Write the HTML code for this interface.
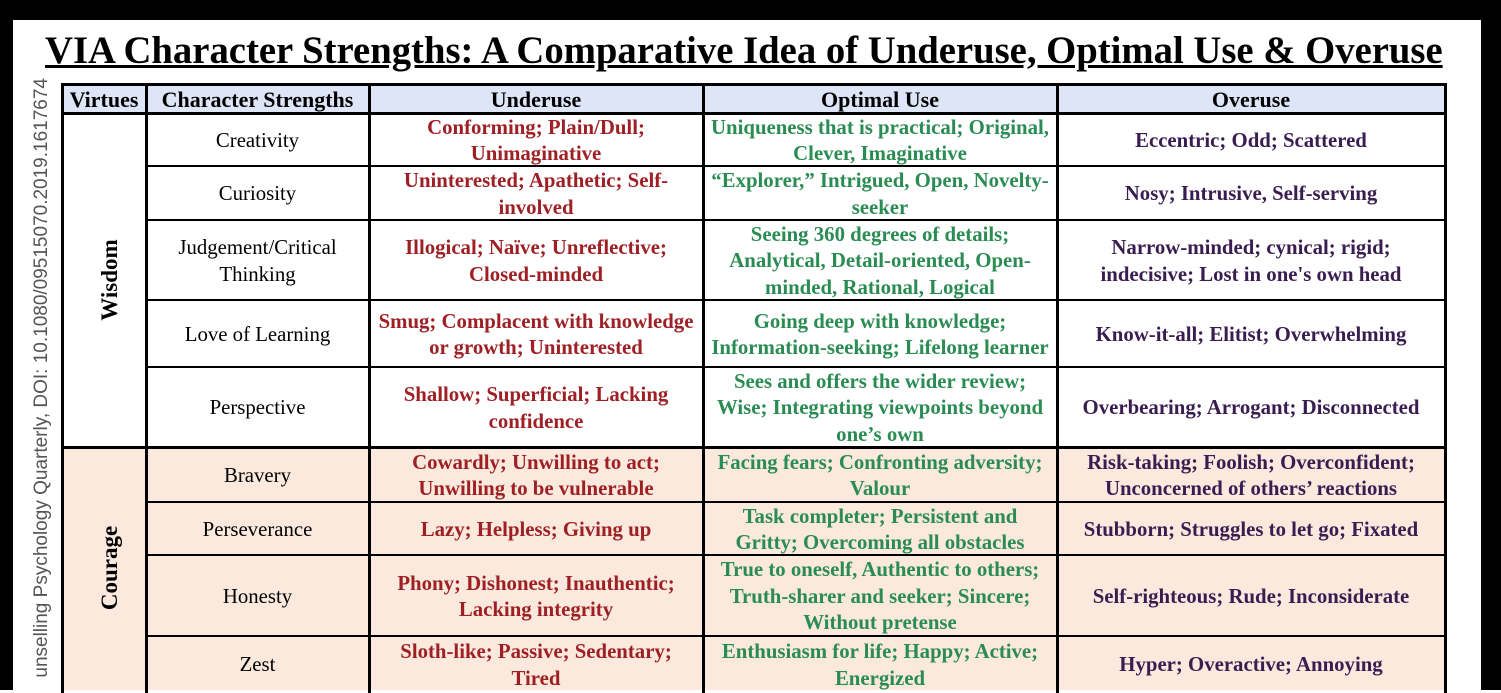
<!DOCTYPE html>
<html><head><meta charset="utf-8"><style>
body{margin:0;width:1501px;height:690px;overflow:hidden;background:#fff;position:relative;font-family:"Liberation Serif",serif}
.frame{position:absolute;background:#000}
.c{position:absolute;display:flex;align-items:center;justify-content:center;text-align:center;font-size:20.8px;line-height:26.5px;box-sizing:border-box;padding:3px 0 0 0;white-space:nowrap}
.b{font-weight:bold}
.r{color:#9e2024;font-weight:bold}
.g{color:#2a8c52;font-weight:bold}
.p{color:#3a1d50;font-weight:bold}
.h{background:#dde5f6;font-weight:bold;color:#000;font-size:22px}
.k{background:#fbe9de}
.l{position:absolute;background:#000}
</style></head><body>
<div class="frame" style="left:0;top:0;width:1501px;height:20px"></div>
<div class="frame" style="left:0;top:0;width:13px;height:690px"></div>
<div class="frame" style="left:1481px;top:0;width:20px;height:690px"></div>
<div style="position:absolute;left:45px;top:29px;width:1420px;font-size:38.7px;font-weight:bold;line-height:44px;text-decoration:underline;white-space:nowrap">VIA Character Strengths: A Comparative Idea of Underuse, Optimal Use &amp; Overuse</div>
<svg style="position:absolute;left:0;top:0" width="60" height="690"><text transform="translate(47,78) rotate(-90)" text-anchor="end" font-family="Liberation Sans, sans-serif" font-size="19" fill="#555">unselling Psychology Quarterly, DOI: 10.1080/09515070.2019.1617674</text></svg>

<!-- header -->
<div class="c h" style="left:62px;top:84px;width:84px;height:29px">Virtues</div>
<div class="c h" style="left:146px;top:84px;width:223px;height:29px">Character Strengths</div>
<div class="c h" style="left:369px;top:84px;width:334px;height:29px">Underuse</div>
<div class="c h" style="left:703px;top:84px;width:354px;height:29px">Optimal Use</div>
<div class="c h" style="left:1057px;top:84px;width:388px;height:29px">Overuse</div>

<div class="c k" style="left:62px;top:447px;width:1383px;height:243px"></div>

<div style="position:absolute;left:110px;top:280px"><div class="b" style="position:absolute;transform:translate(-50%,-50%) rotate(-90deg);font-size:23px;white-space:nowrap">Wisdom</div></div>
<div style="position:absolute;left:110px;top:568px"><div class="b" style="position:absolute;transform:translate(-50%,-50%) rotate(-90deg);font-size:23px;white-space:nowrap">Courage</div></div>

<!-- rows -->
<div class="c" style="left:146px;top:113px;width:223px;height:53px">Creativity</div>
<div class="c r" style="left:369px;top:113px;width:334px;height:53px">Conforming; Plain/Dull;<br>Unimaginative</div>
<div class="c g" style="left:703px;top:113px;width:354px;height:53px">Uniqueness that is practical; Original,<br>Clever, Imaginative</div>
<div class="c p" style="left:1057px;top:113px;width:388px;height:53px">Eccentric; Odd; Scattered</div>

<div class="c" style="left:146px;top:166px;width:223px;height:54px">Curiosity</div>
<div class="c r" style="left:369px;top:166px;width:334px;height:54px">Uninterested; Apathetic; Self-<br>involved</div>
<div class="c g" style="left:703px;top:166px;width:354px;height:54px">“Explorer,” Intrigued, Open, Novelty-<br>seeker</div>
<div class="c p" style="left:1057px;top:166px;width:388px;height:54px">Nosy; Intrusive, Self-serving</div>

<div class="c" style="left:146px;top:220px;width:223px;height:80px">Judgement/Critical<br>Thinking</div>
<div class="c r" style="left:369px;top:220px;width:334px;height:80px">Illogical; Naïve; Unreflective;<br>Closed-minded</div>
<div class="c g" style="left:703px;top:220px;width:354px;height:80px">Seeing 360 degrees of details;<br>Analytical, Detail-oriented, Open-<br>minded, Rational, Logical</div>
<div class="c p" style="left:1057px;top:220px;width:388px;height:80px">Narrow-minded; cynical; rigid;<br>indecisive; Lost in one's own head</div>

<div class="c" style="left:146px;top:300px;width:223px;height:67px">Love of Learning</div>
<div class="c r" style="left:369px;top:300px;width:334px;height:67px">Smug; Complacent with knowledge<br>or growth; Uninterested</div>
<div class="c g" style="left:703px;top:300px;width:354px;height:67px">Going deep with knowledge;<br>Information-seeking; Lifelong learner</div>
<div class="c p" style="left:1057px;top:300px;width:388px;height:67px">Know-it-all; Elitist; Overwhelming</div>

<div class="c" style="left:146px;top:367px;width:223px;height:80px">Perspective</div>
<div class="c r" style="left:369px;top:367px;width:334px;height:80px">Shallow; Superficial; Lacking<br>confidence</div>
<div class="c g" style="left:703px;top:367px;width:354px;height:80px">Sees and offers the wider review;<br>Wise; Integrating viewpoints beyond<br>one’s own</div>
<div class="c p" style="left:1057px;top:367px;width:388px;height:80px">Overbearing; Arrogant; Disconnected</div>

<div class="c" style="left:146px;top:447px;width:223px;height:55px">Bravery</div>
<div class="c r" style="left:369px;top:447px;width:334px;height:55px">Cowardly; Unwilling to act;<br>Unwilling to be vulnerable</div>
<div class="c g" style="left:703px;top:447px;width:354px;height:55px">Facing fears; Confronting adversity;<br>Valour</div>
<div class="c p" style="left:1057px;top:447px;width:388px;height:55px">Risk-taking; Foolish; Overconfident;<br>Unconcerned of others’ reactions</div>

<div class="c" style="left:146px;top:502px;width:223px;height:53px">Perseverance</div>
<div class="c r" style="left:369px;top:502px;width:334px;height:53px">Lazy; Helpless; Giving up</div>
<div class="c g" style="left:703px;top:502px;width:354px;height:53px">Task completer; Persistent and<br>Gritty; Overcoming all obstacles</div>
<div class="c p" style="left:1057px;top:502px;width:388px;height:53px">Stubborn; Struggles to let go; Fixated</div>

<div class="c" style="left:146px;top:555px;width:223px;height:81px">Honesty</div>
<div class="c r" style="left:369px;top:555px;width:334px;height:81px">Phony; Dishonest; Inauthentic;<br>Lacking integrity</div>
<div class="c g" style="left:703px;top:555px;width:354px;height:81px">True to oneself, Authentic to others;<br>Truth-sharer and seeker; Sincere;<br>Without pretense</div>
<div class="c p" style="left:1057px;top:555px;width:388px;height:81px">Self-righteous; Rude; Inconsiderate</div>

<div class="c" style="left:146px;top:636px;width:223px;height:56px">Zest</div>
<div class="c r" style="left:369px;top:636px;width:334px;height:56px">Sloth-like; Passive; Sedentary;<br>Tired</div>
<div class="c g" style="left:703px;top:636px;width:354px;height:56px">Enthusiasm for life; Happy; Active;<br>Energized</div>
<div class="c p" style="left:1057px;top:636px;width:388px;height:56px">Hyper; Overactive; Annoying</div>

<!-- lines -->
<div class="l" style="left:61px;top:83px;width:1386px;height:3px"></div>
<div class="l" style="left:61px;top:112px;width:1386px;height:3px"></div>
<div class="l" style="left:61px;top:446px;width:1386px;height:3px"></div>
<div class="l" style="left:146px;top:165px;width:1300px;height:2px"></div>
<div class="l" style="left:146px;top:219px;width:1300px;height:2px"></div>
<div class="l" style="left:146px;top:299px;width:1300px;height:2px"></div>
<div class="l" style="left:146px;top:366px;width:1300px;height:2px"></div>
<div class="l" style="left:146px;top:501px;width:1300px;height:2px"></div>
<div class="l" style="left:146px;top:554px;width:1300px;height:2px"></div>
<div class="l" style="left:146px;top:635px;width:1300px;height:2px"></div>
<div class="l" style="left:61px;top:83px;width:3px;height:610px"></div>
<div class="l" style="left:145px;top:83px;width:3px;height:610px"></div>
<div class="l" style="left:368px;top:83px;width:3px;height:610px"></div>
<div class="l" style="left:702px;top:83px;width:3px;height:610px"></div>
<div class="l" style="left:1056px;top:83px;width:3px;height:610px"></div>
<div class="l" style="left:1444px;top:83px;width:3px;height:610px"></div>
</body></html>
